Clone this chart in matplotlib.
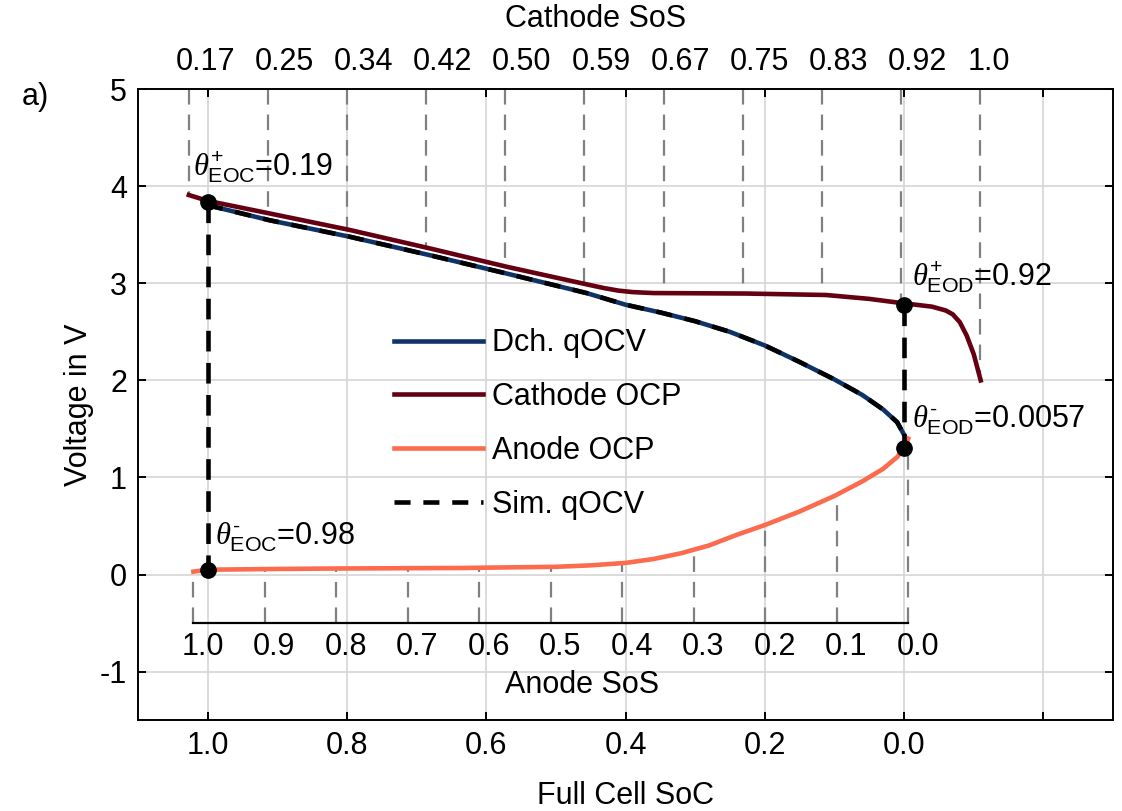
import numpy as np
import matplotlib
matplotlib.use('Agg')
import matplotlib.pyplot as plt

plt.rcParams['font.family'] = ['Liberation Sans', 'DejaVu Sans']
plt.rcParams['font.size'] = 22
plt.rcParams['mathtext.fontset'] = 'custom'
plt.rcParams['mathtext.rm'] = 'Liberation Sans'
plt.rcParams['mathtext.it'] = 'Liberation Serif:italic'
plt.rcParams['mathtext.bf'] = 'Liberation Sans:bold'

# stoichiometric limits
theta_eoc_pos = 0.19
theta_eod_pos = 0.92
theta_eoc_neg = 0.98
theta_eod_neg = 0.0057

# cathode OCP over full cell SoC
cathode_soc = [1.027, 1.0, 0.911, 0.796, 0.681, 0.570, 0.456, 0.43, 0.41, 0.39, 0.36,
               0.227, 0.112, 0.05, 0.007, -0.040, -0.060, -0.070, -0.080, -0.090, -0.100, -0.110]
cathode_v = [3.91, 3.85, 3.72, 3.55, 3.36, 3.17, 2.99, 2.95, 2.925, 2.91, 2.90,
             2.895, 2.88, 2.84, 2.80, 2.76, 2.72, 2.68, 2.60, 2.46, 2.27, 2.00]

# anode OCP over full cell SoC
anode_soc = [1.0205, 1.0, 0.897, 0.825, 0.634, 0.5, 0.45, 0.40, 0.36, 0.32, 0.28,
             0.24, 0.20, 0.15, 0.10, 0.06, 0.03, 0.01, 0.0, -0.0059]
anode_v = [0.03, 0.05, 0.058, 0.062, 0.068, 0.08, 0.095, 0.12, 0.16, 0.22, 0.30,
           0.41, 0.51, 0.65, 0.81, 0.96, 1.09, 1.21, 1.30, 1.40]

# measured discharge qOCV (sim. qOCV lies on top of it)
qocv_soc = [1.0, 0.997, 0.911, 0.796, 0.681, 0.570, 0.456, 0.40, 0.35, 0.30,
            0.25, 0.20, 0.15, 0.10, 0.06, 0.03, 0.01, 0.0]
qocv_v = [3.82, 3.80, 3.65, 3.48, 3.29, 3.10, 2.90, 2.78, 2.70, 2.61,
          2.50, 2.36, 2.19, 2.01, 1.85, 1.70, 1.57, 1.44]

# marked points
point_soc = [1.0, 1.0, 0.0, 0.0]
point_v = [3.84, 0.05, 2.78, 1.30]

cathode_sos = [0.17, 0.253, 0.336, 0.419, 0.502, 0.585, 0.668, 0.751, 0.834, 0.917, 1.0]
cathode_labels = ['0.17', '0.25', '0.34', '0.42', '0.50', '0.59', '0.67', '0.75', '0.83', '0.92', '1.0']
anode_sos = [1.0, 0.9, 0.8, 0.7, 0.6, 0.5, 0.4, 0.3, 0.2, 0.1, 0.0]
anode_labels = ['1.0', '0.9', '0.8', '0.7', '0.6', '0.5', '0.4', '0.3', '0.2', '0.1', '0.0']

soc_ticks = [1.0, 0.8, 0.6, 0.4, 0.2, 0.0, -0.2]
soc_labels = ['1.0', '0.8', '0.6', '0.4', '0.2', '0.0', '']

c_qocv = '#0f3366'
c_cath = '#650012'
c_anode = '#fc6b4e'
lw_curve = 3.3

fig = plt.figure(figsize=(11.22, 8.11), dpi=100)
ax = fig.add_axes([0.123, 0.112, 0.869, 0.778])
ax.set_xlim(1.1, -0.3)
ax.set_ylim(-1.5, 5)

# electrode SoS helper lines
cath_x = [(theta_eod_pos - s) / (theta_eod_pos - theta_eoc_pos) for s in cathode_sos]
cath_end = np.interp(cath_x, cathode_soc[::-1], cathode_v[::-1])
for x, yend, lab in zip(cath_x, cath_end, cathode_labels):
    ax.plot([x, x], [5, yend], color='#808080', lw=1.6, ls=(0, (7, 4.5)), zorder=1)
    ax.annotate(lab, xy=(x, 5), xytext=(-9.5, 19.5), textcoords='offset points',
                ha='left', va='center', annotation_clip=False)
ax.text(0.443, 5.72, 'Cathode SoS', ha='center', va='center', clip_on=False)

an_x = [(s - theta_eod_neg) / (theta_eoc_neg - theta_eod_neg) for s in anode_sos]
an_end = np.interp(an_x, anode_soc[::-1], anode_v[::-1])
for x, yend, lab in zip(an_x, an_end, anode_labels):
    ax.plot([x, x], [-0.5, yend], color='#808080', lw=1.6, ls=(0, (7, 4.5)), zorder=1)
    ax.annotate(lab, xy=(x, -0.5), xytext=(-8.5, -17), textcoords='offset points',
                ha='left', va='center')
ax.plot([an_x[0], an_x[-1]], [-0.5, -0.5], color='black', lw=1.6, zorder=2)
ax.text(0.463, -1.14, 'Anode SoS', ha='center', va='center')

ax.plot(cathode_soc, cathode_v, color=c_cath, lw=lw_curve, zorder=3)
ax.plot(anode_soc, anode_v, color=c_anode, lw=lw_curve, zorder=3)
ax.plot(qocv_soc, qocv_v, color=c_qocv, lw=lw_curve, zorder=4)
ax.plot(qocv_soc, qocv_v, color='black', lw=lw_curve, ls=(0, (3.5, 2.8)), zorder=5)

# legend entries
ax.plot([], [], color=c_qocv, lw=lw_curve, label='Dch. qOCV')
ax.plot([], [], color=c_cath, lw=lw_curve, label='Cathode OCP')
ax.plot([], [], color=c_anode, lw=lw_curve, label='Anode OCP')
ax.plot([], [], color='black', lw=lw_curve, ls=(0, (3.5, 2.8)), label='Sim. qOCV')

ax.plot([point_soc[0], point_soc[1]], [point_v[0], point_v[1]], color='black', lw=3.3,
        ls=(0, (4.5, 2.5)), zorder=6)
ax.plot([point_soc[2], point_soc[3]], [point_v[2], point_v[3]], color='black', lw=3.3,
        ls=(0, (4.5, 2.5)), zorder=6)
ax.plot(point_soc, point_v, 'o', color='black', ms=11, zorder=7)

ax.text(1.0215, 4.11, r'$\theta^{+}_{\mathrm{EOC}}$=0.19', ha='left', va='baseline', zorder=8)
ax.text(0.99, 0.31, r'$\theta^{\text{-}}_{\mathrm{EOC}}$=0.98', ha='left', va='baseline', zorder=8)
ax.text(-0.0115, 2.98, r'$\theta^{+}_{\mathrm{EOD}}$=0.92', ha='left', va='baseline', zorder=8)
ax.text(-0.0115, 1.51, r'$\theta^{\text{-}}_{\mathrm{EOD}}$=0.0057', ha='left', va='baseline', zorder=8)

ax.legend(loc='upper left', bbox_to_anchor=(382 / 1122, 1 - 316 / 811),
          bbox_transform=fig.transFigure, frameon=False, handlelength=2.9,
          handletextpad=0.3, labelspacing=0.78, borderaxespad=0)

ax.set_xticks(soc_ticks)
ax.set_xticklabels(soc_labels)
ax.set_yticks([-1, 0, 1, 2, 3, 4, 5])
ax.set_yticklabels(['-1', '0', '1', '2', '3', '4', '5'])
ax.tick_params(direction='in', top=True, right=True, length=6, width=1.4, pad=8)
ax.grid(True, color='#d6d6d6', lw=1.2)
ax.set_axisbelow(True)
for sp in ax.spines.values():
    sp.set_linewidth(1.4)

ax.set_xlabel('Full Cell SoC', labelpad=14)
ax.set_ylabel('Voltage in V', labelpad=4)
fig.text(35 / 1122, 1 - 97 / 811, 'a)', ha='center', va='center')

fig.savefig('out.png', dpi=100)
